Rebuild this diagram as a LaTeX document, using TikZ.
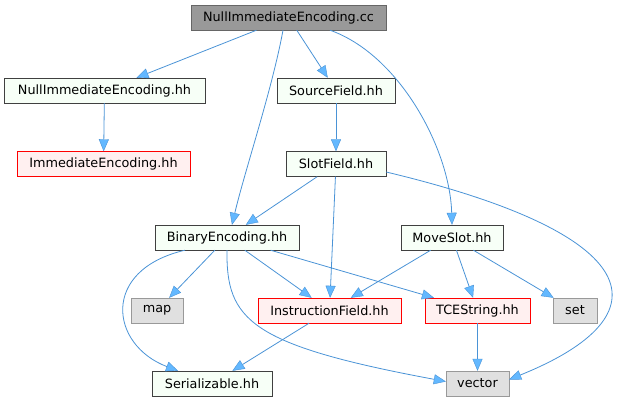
\documentclass[tikz,border=0pt]{standalone}
\usepackage{fontspec}
\setmainfont{DejaVu Sans}
\usetikzlibrary{arrows.meta}
\definecolor{edgeblue}{HTML}{4A93D6}
\definecolor{tipblue}{HTML}{63B8FF}
\definecolor{redfill}{HTML}{FFF0F0}
\definecolor{sysfill}{HTML}{E0E0E0}
\definecolor{rootfill}{HTML}{999999}
\begin{document}
\begin{tikzpicture}[x=1pt,y=-1pt,font=\fontsize{12.8}{15}\selectfont,
	file/.style={draw=black!75,fill=white!97!green,minimum height=25,inner sep=0pt},
	missing/.style={file,draw=red,fill=redfill},
	sys/.style={file,draw=black!40,fill=sysfill},
	root/.style={file,draw=black!60,fill=rootfill},
	dep/.style={edgeblue,line width=0.8pt,-{Stealth[length=12pt,width=10pt,inset=0pt,fill=tipblue,line width=0.4pt]}}]
					\useasboundingbox (0,0) rectangle (618,403);
					\node[root,minimum width=195] (cc) at (288.5,17.5) {NullImmediateEncoding.cc};
					\node[file,minimum width=201] (nieh) at (104.5,90.5) {NullImmediateEncoding.hh};
					\node[missing,minimum width=173] (ie) at (103.5,164) {ImmediateEncoding.hh};
					\node[file,minimum width=118] (src) at (336,90.5) {SourceField.hh};
					\node[file,minimum width=100] (slot) at (336,164) {SlotField.hh};
					\node[file,minimum width=144] (be) at (227,237.5) {BinaryEncoding.hh};
					\node[file,minimum width=102] (ms) at (452,237.5) {MoveSlot.hh};
					\node[sys,minimum width=52] (map) at (157,310.5) {map};
					\node[missing,minimum width=143] (inf) at (329.5,310.5) {InstructionField.hh};
					\node[missing,minimum width=105] (tce) at (477.5,310.5) {TCEString.hh};
					\node[sys,minimum width=44] (set) at (575,310.5) {set};
					\node[file,minimum width=120] (ser) at (212,383.5) {Serializable.hh};
					\node[sys,minimum width=63] (vec) at (477.5,383.5) {vector};
					\draw[dep] (cc) -- (nieh);
					\draw[dep] ([xshift=-5.5pt]cc.south) .. controls (272,90) and (245,170) .. ([xshift=5pt]be.north);
					\draw[dep] (cc) -- (src);
					\draw[dep] ([xshift=41.5pt]cc.south) .. controls (400,55) and (450,150) .. (ms.north);
					\draw[dep] (nieh) -- (ie);
					\draw[dep] (src) -- (slot);
					\draw[dep] (slot) -- (be);
					\draw[dep] (slot) -- (inf);
					\draw[dep] ([yshift=-8pt]slot.east) .. controls (646,234) and (669,315) .. ([yshift=4pt]vec.east);
					\draw[dep] (be) -- (map);
					\draw[dep] (be) -- (inf);
					\draw[dep] (be) -- (tce);
					\draw[dep] ([xshift=-42pt]be.south) .. controls (100,270) and (110,345) .. ([xshift=-34pt]ser.north);
					\draw[dep] (be.south) .. controls (226,320) and (250,345) .. ([yshift=2pt]vec.west);
					\draw[dep] (ms) -- (inf);
					\draw[dep] (ms) -- (tce);
					\draw[dep] (ms) -- (set);
					\draw[dep] (inf) -- (ser);
					\draw[dep] (tce) -- (vec);
				\end{tikzpicture}
\end{document}
